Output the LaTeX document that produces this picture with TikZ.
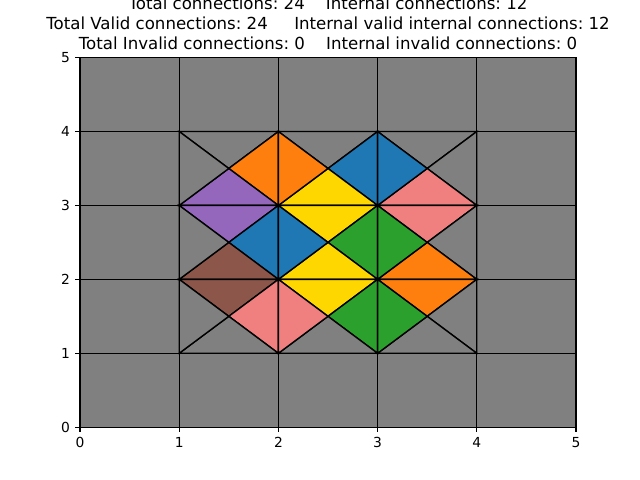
\documentclass[tikz,border=0pt]{standalone}
\usepackage{fontspec}
\setmainfont{DejaVu Sans}
\frenchspacing
\definecolor{cgray}{HTML}{808080}
\definecolor{corange}{HTML}{FF7F0E}
\definecolor{cblue}{HTML}{1F77B4}
\definecolor{cpurple}{HTML}{9467BD}
\definecolor{cbrown}{HTML}{8C564B}
\definecolor{cgreen}{HTML}{2CA02C}
\definecolor{cyellow}{HTML}{FFD700}
\definecolor{cpink}{HTML}{F08080}
\tikzset{
  cell/.style={draw=black, line width=1pt, fill=cgray, line join=miter},
  tri/.style={draw=black, line width=1pt, line join=miter},
  spine/.style={draw=black, line width=0.8pt},
  tick/.style={draw=black, line width=0.8pt},
  ticklab/.style={inner sep=0pt, font=\fontsize{10pt}{12pt}\selectfont},
  titlelab/.style={inner sep=0pt, anchor=base, font=\fontsize{12pt}{14.4pt}\selectfont}
}
\begin{document}
\begin{tikzpicture}[x=0.992in, y=0.7392in]
\useasboundingbox (-0.8in,-0.528in) rectangle (5.6in,4.272in);
\clip (-0.8in,-0.528in) rectangle (5.6in,4.272in);
\fill[white] (-0.8in,-0.528in) rectangle (5.6in,4.272in);
% outer gray cells
\foreach \i in {0,...,4} {
  \draw[cell] (\i,0) rectangle ++(1,1);
  \draw[cell] (\i,4) rectangle ++(1,1);
}
\foreach \j in {1,2,3} {
  \draw[cell] (0,\j) rectangle ++(1,1);
  \draw[cell] (4,\j) rectangle ++(1,1);
}
% inner cells split into four triangles: top/right/bottom/left
\foreach \i/\j/\ct/\cr/\cb/\cl in {
  1/3/cgray/corange/cpurple/cgray,
  2/3/cgray/cblue/cyellow/corange,
  3/3/cgray/cgray/cpink/cblue,
  1/2/cpurple/cblue/cbrown/cgray,
  2/2/cyellow/cgreen/cyellow/cblue,
  3/2/cpink/cgray/corange/cgreen,
  1/1/cbrown/cpink/cgray/cgray,
  2/1/cyellow/cgreen/cgray/cpink,
  3/1/corange/cgray/cgray/cgreen} {
  \coordinate (c) at (\i+0.5,\j+0.5);
  \draw[tri, fill=\ct] (\i,\j+1) -- (\i+1,\j+1) -- (c) -- cycle;
  \draw[tri, fill=\cr] (\i+1,\j) -- (\i+1,\j+1) -- (c) -- cycle;
  \draw[tri, fill=\cb] (\i,\j) -- (\i+1,\j) -- (c) -- cycle;
  \draw[tri, fill=\cl] (\i,\j) -- (\i,\j+1) -- (c) -- cycle;
}
% axes
\draw[spine] (0,0) rectangle (5,5);
\foreach \k in {0,...,5} {
  \draw[tick] (\k,0) -- ++(0,-3.5pt);
  \node[ticklab, anchor=north] (xl\k) at ([yshift=-7pt]\k,0) {\k};
  \draw[tick] (0,\k) -- ++(-3.5pt,0);
  \node[ticklab, anchor=east] (yl\k) at ([xshift=-7pt]0,\k) {\k};
}
% title
\node[titlelab] (t3) at ([yshift=6pt]2.5,5) {Total Invalid connections: 0\hspace{15.3pt}Internal invalid connections: 0};
\node[titlelab] (t2) at ([yshift=20.4pt]2.5,5) {Total Valid connections: 24\hspace{19.1pt}Internal valid internal connections: 12};
\node[titlelab] (t1) at ([yshift=34.8pt]2.5,5) {Total connections: 24\hspace{15.3pt}Internal connections: 12};
\end{tikzpicture}
\end{document}
